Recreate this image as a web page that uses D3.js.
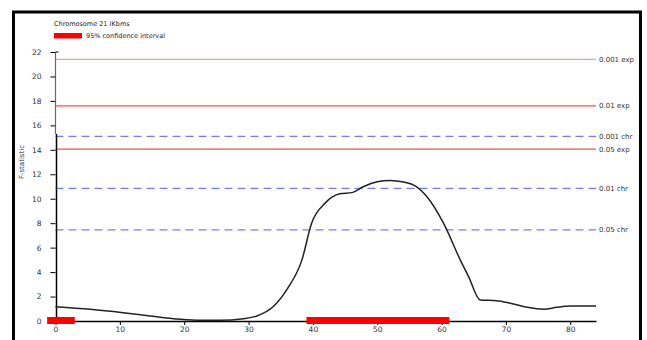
<!DOCTYPE html>
<html>
<head>
<meta charset="utf-8">
<script src="https://cdn.jsdelivr.net/npm/d3@7"></script>
<style>
  body { margin: 0; background: #fff; }
  svg text { font-family: "DejaVu Sans", sans-serif; }
</style>
</head>
<body>
<div id="chart"></div>
<script>
// F-statistic profile along the chromosome
const positions = [0, 5.4, 10.5, 14.7, 18.3, 22, 25.6, 29.2, 31.3, 33.9, 36, 38.3, 39.8, 41.9, 44.2, 46.1, 47.9, 50, 52, 54.1, 55.9, 57.7, 60.3, 62.9, 64.2, 66, 68.6, 70.7, 73.3, 75.9, 77.9, 80, 84];
const fValues  = [1.17, 0.96, 0.68, 0.41, 0.19, 0.07, 0.06, 0.19, 0.41, 1.2, 2.6, 5.0, 8.0, 9.64, 10.4, 10.5, 11.0, 11.38, 11.49, 11.36, 11.06, 10.18, 8.0, 5.0, 3.63, 1.72, 1.66, 1.45, 1.12, 0.96, 1.12, 1.23, 1.23];

// threshold lines
const thrLabels = ["0.001 exp", "0.01 exp", "0.001 chr", "0.05 exp", "0.01 chr", "0.05 chr"];
const thrValues = [21.4, 17.6, 15.1, 14.05, 10.85, 7.45];
const thrKinds  = ["exp1", "exp", "chr", "exp", "chr", "chr"];

// 95% confidence intervals
const ciStart = [-1.3, 39];
const ciEnd   = [3.0, 61.2];

const xTicks = [0, 10, 20, 30, 40, 50, 60, 70, 80];
const yTicks = [0, 2, 4, 6, 8, 10, 12, 14, 16, 18, 20, 22];

const width = 647, height = 340;
const margin = { top: 52, right: 51, bottom: 19, left: 55.5 };

const svg = d3.select("#chart").append("svg")
  .attr("width", width).attr("height", height);

// frame
svg.append("path")
  .attr("d", `M13.5,${height + 5} V12 H640.5 V${height + 5}`)
  .attr("fill", "none").attr("stroke", "#000").attr("stroke-width", 3);

const x = d3.scaleLinear().domain([0, 84]).range([margin.left, width - margin.right]);
const y = d3.scaleLinear().domain([0, 22]).range([height - margin.bottom, margin.top]);

// threshold lines
const styles = {
  exp1: { stroke: "#ff9a9a", dash: null },
  exp:  { stroke: "#ff4d4d", dash: null },
  chr:  { stroke: "#7a7aff", dash: "8,5" }
};
const thr = svg.append("g");
thrValues.forEach((v, i) => {
  const s = styles[thrKinds[i]];
  thr.append("line")
    .attr("x1", x(0)).attr("x2", x(84))
    .attr("y1", y(v)).attr("y2", y(v))
    .attr("stroke", s.stroke).attr("stroke-width", 1.2)
    .attr("stroke-dasharray", s.dash);
  thr.append("text")
    .attr("x", x(84) + 3).attr("y", y(v) + 2.5)
    .attr("font-size", 7).attr("fill", "#333")
    .text(thrLabels[i]);
});

// y axis
const yAxis = svg.append("g")
  .attr("transform", `translate(${margin.left},0)`)
  .call(d3.axisLeft(y).tickValues(yTicks).tickSize(5).tickPadding(9));
yAxis.select(".domain").remove();
yAxis.selectAll(".tick line").attr("stroke", "#000");
yAxis.selectAll("text").attr("font-size", 7.5).attr("fill", "#333");
svg.append("line")
  .attr("x1", margin.left).attr("x2", margin.left)
  .attr("y1", y(22)).attr("y2", y(15.3))
  .attr("stroke", "#666").attr("stroke-width", 1.2);
svg.append("line")
  .attr("x1", margin.left + 1).attr("x2", margin.left + 1)
  .attr("y1", y(15.3)).attr("y2", y(0))
  .attr("stroke", "#000").attr("stroke-width", 1.5);
svg.append("line")
  .attr("x1", margin.left).attr("x2", margin.left + 3)
  .attr("y1", y(22)).attr("y2", y(22))
  .attr("stroke", "#000");

svg.append("text")
  .attr("transform", `translate(24,${y(13)}) rotate(-90)`)
  .attr("text-anchor", "middle")
  .attr("font-size", 7).attr("fill", "#333")
  .text("F-statistic");

// x axis
const xAxis = svg.append("g")
  .attr("transform", `translate(0,${y(0)})`)
  .call(d3.axisBottom(x).tickValues(xTicks).tickSize(4).tickPadding(2).tickSizeOuter(0));
xAxis.select(".domain").attr("stroke", "#000").attr("stroke-width", 1.5);
xAxis.selectAll(".tick line").attr("stroke", "#000");
xAxis.selectAll("text").attr("font-size", 7.5).attr("fill", "#333");

// confidence interval bars
svg.append("g").selectAll("rect")
  .data(ciStart)
  .join("rect")
  .attr("x", (d) => x(d))
  .attr("width", (d, i) => x(ciEnd[i]) - x(d))
  .attr("y", y(0) - 4)
  .attr("height", 7)
  .attr("fill", "#ff0000");

// F-statistic curve
const pts = positions.map((p, i) => [p, fValues[i]]);
svg.append("path")
  .datum(pts)
  .attr("fill", "none")
  .attr("stroke", "#222")
  .attr("stroke-width", 1.5)
  .attr("d", d3.line().x((d) => x(d[0])).y((d) => y(d[1])).curve(d3.curveMonotoneX));

// legend
svg.append("text")
  .attr("x", 54).attr("y", 26)
  .attr("font-size", 6.5).attr("fill", "#222")
  .text("Chromosome 21 IKbms");
svg.append("rect")
  .attr("x", 54).attr("y", 33).attr("width", 28).attr("height", 5.5)
  .attr("fill", "#ff0000");
svg.append("text")
  .attr("x", 86).attr("y", 38)
  .attr("font-size", 6.5).attr("fill", "#222")
  .text("95% confidence interval");
</script>
</body>
</html>
